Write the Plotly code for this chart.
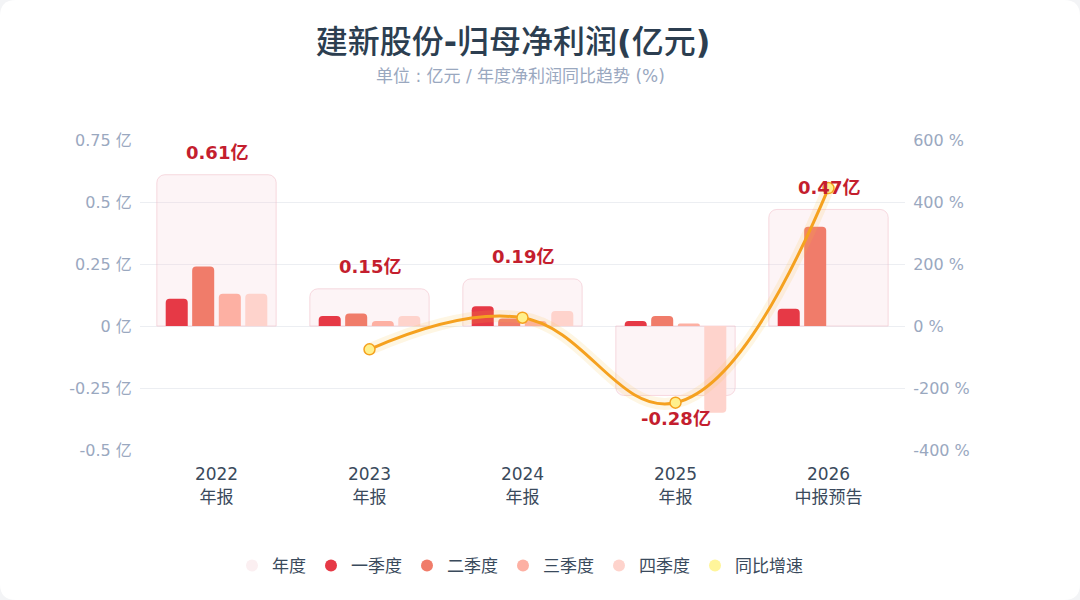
import plotly.graph_objects as go

categories = ["2022<br>年报", "2023<br>年报", "2024<br>年报", "2025<br>年报", "2026<br>中报预告"]
annual = [0.61, 0.15, 0.19, -0.28, 0.47]
q1 = [0.11, 0.04, 0.08, 0.02, 0.07]
q2 = [0.24, 0.05, 0.03, 0.04, 0.40]
q3 = [0.13, 0.02, 0.02, 0.01, None]
q4 = [0.13, 0.04, 0.06, -0.35, None]
yoy_x = categories[1:]
yoy = [-75.4, 26.7, -247.4, 445.0]
annual_labels = ["0.61亿", "0.15亿", "0.19亿", "-0.28亿", "0.47亿"]

left_ticks = [-0.5, -0.25, 0, 0.25, 0.5, 0.75]
left_tick_text = ["-0.5 亿", "-0.25 亿", "0 亿", "0.25 亿", "0.5 亿", "0.75 亿"]
right_ticks = [-400, -200, 0, 200, 400, 600]
right_tick_text = ["-400 %", "-200 %", "0 %", "200 %", "400 %", "600 %"]

FONT = "DejaVu Sans, Noto Sans CJK SC, sans-serif"
q_colors = ["#E63946", "#F07C6A", "#FDB0A3", "#FED3CC"]
q_names = ["一季度", "二季度", "三季度", "四季度"]
annual_fill = "rgba(244,205,212,0.22)"
annual_line = "rgba(240,190,200,0.55)"
line_color = "#F5A11F"
marker_fill = "#FFF08C"
label_color = "#C41E2E"

fig = go.Figure()

# annual boxes
fig.add_trace(go.Bar(
    x=categories, y=annual, width=0.78, offset=-0.39,
    marker=dict(color=annual_fill, line=dict(color=annual_line, width=1), cornerradius=8),
    showlegend=False, hoverinfo="skip",
))

# quarterly bars
q_series = [q1, q2, q3, q4]
centers = [-0.26, -0.087, 0.087, 0.26]
w = 0.144
for vals, c, name, ctr in zip(q_series, q_colors, q_names, centers):
    fig.add_trace(go.Bar(
        x=categories, y=vals, width=w, offset=ctr - w / 2,
        marker=dict(color=c, line=dict(width=0), cornerradius=4),
        name=name, showlegend=False,
    ))

# yoy glow
fig.add_trace(go.Scatter(
    x=yoy_x, y=yoy, yaxis="y2", mode="lines",
    line=dict(color="rgba(250,190,60,0.14)", width=12, shape="spline", smoothing=1.2),
    showlegend=False, hoverinfo="skip",
))
fig.add_trace(go.Scatter(
    x=yoy_x, y=yoy, yaxis="y2", mode="lines+markers",
    line=dict(color=line_color, width=3, shape="spline", smoothing=1.2),
    marker=dict(size=11, color=marker_fill, line=dict(color=line_color, width=1.5)),
    showlegend=False,
))

# legend entries (circles)
legend_items = [("年度", "#FBEFF1")] + list(zip(q_names, q_colors)) + [("同比增速", "#FFF59A")]
for name, col in legend_items:
    fig.add_trace(go.Scatter(
        x=[None], y=[None], mode="markers", name=name,
        marker=dict(size=14, color=col, symbol="circle"),
    ))

# annual labels
for cat, v, t in zip(categories, annual, annual_labels):
    fig.add_annotation(
        x=cat, y=v, text=f"<b>{t}</b>", showarrow=False,
        yshift=22 if v >= 0 else -23,
        font=dict(size=18, color=label_color, family=FONT),
    )

# card background
L, R, T, B = 140, 175, 140, 150
pw, ph = 1080 - L - R, 600 - T - B
def px(xp):
    return (xp - L) / pw
def py(yp):
    return (600 - B - yp) / ph
r = 16
path = (f"M {px(r)} {py(0)} L {px(1080-r)} {py(0)} Q {px(1080)} {py(0)} {px(1080)} {py(r)} "
        f"L {px(1080)} {py(600-r)} Q {px(1080)} {py(600)} {px(1080-r)} {py(600)} "
        f"L {px(r)} {py(600)} Q {px(0)} {py(600)} {px(0)} {py(600-r)} "
        f"L {px(0)} {py(r)} Q {px(0)} {py(0)} {px(r)} {py(0)} Z")
fig.add_shape(type="path", path=path, xref="paper", yref="paper",
              fillcolor="white", line=dict(width=0), layer="below")

# subtitle
fig.add_annotation(
    x=px(520), y=py(76), xref="paper", yref="paper", xanchor="center", yanchor="middle",
    text="单位 : 亿元 / 年度净利润同比趋势 (%)", showarrow=False,
    font=dict(size=17, color="#9AA8BF", family=FONT),
)

fig.update_layout(
    width=1080, height=600,
    margin=dict(l=L, r=R, t=T, b=B),
    paper_bgcolor="#F3F4F6", plot_bgcolor="rgba(0,0,0,0)",
    barmode="overlay",
    font=dict(family=FONT, color="#3A4A5C"),
    title=dict(
        text="建新股份<b>-</b>归母净利润<b>(</b>亿元<b>)</b>",
        x=px(513), xref="paper", xanchor="center",
        y=1 - 42 / 600, yref="container", yanchor="middle",
        font=dict(size=32, color="#2C3E50", family=FONT, weight=500),
    ),
    xaxis=dict(
        type="category", range=[-0.5, 4.5],
        showgrid=False, zeroline=False, showline=False,
        ticks="outside", ticklen=9, tickcolor="rgba(0,0,0,0)",
        tickfont=dict(size=17, color="#3A4A5C", family=FONT),
    ),
    yaxis=dict(
        range=[-0.5, 0.75], tickvals=left_ticks, ticktext=left_tick_text,
        showgrid=True, gridcolor="#ECEEF2", gridwidth=1, zeroline=False, showline=False,
        ticks="outside", ticklen=4, tickcolor="rgba(0,0,0,0)",
        tickfont=dict(size=16, color="#9AA8BF", family=FONT),
    ),
    yaxis2=dict(
        range=[-400, 600], tickvals=right_ticks, ticktext=right_tick_text,
        overlaying="y", side="right", showgrid=False, zeroline=False, showline=False,
        ticks="outside", ticklen=4, tickcolor="rgba(0,0,0,0)",
        tickfont=dict(size=16, color="#9AA8BF", family=FONT),
    ),
    legend=dict(
        orientation="h", x=px(520), xanchor="center", y=py(566), yanchor="middle",
        font=dict(size=17, color="#3A4A5C", family=FONT),
        itemsizing="constant", traceorder="normal",
        bgcolor="rgba(0,0,0,0)",
    ),
    hovermode=False,
)

fig.write_html("out.html")
